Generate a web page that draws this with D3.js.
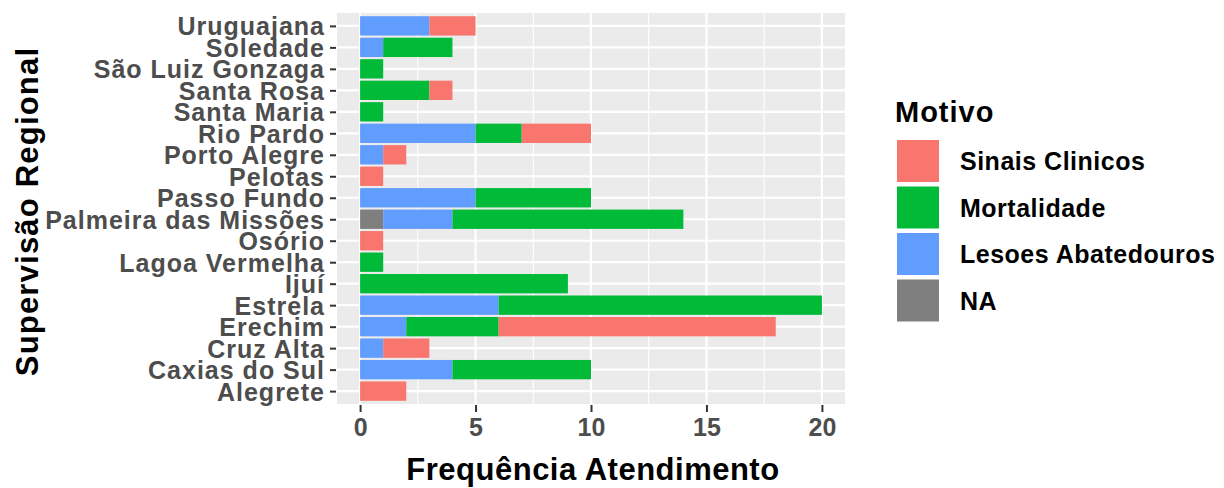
<!DOCTYPE html>
<html><head><meta charset="utf-8">
<script src="https://cdn.jsdelivr.net/npm/d3@7"></script>
<style>body{margin:0;background:#fff}text{font-family:"Liberation Sans",Arial,sans-serif;font-weight:bold}</style>
</head><body><svg id="c" width="1224" height="488"></svg>
<script>
const categories = ["Uruguajana","Soledade","São Luiz Gonzaga","Santa Rosa","Santa Maria","Rio Pardo","Porto Alegre","Pelotas","Passo Fundo","Palmeira das Missões","Osório","Lagoa Vermelha","Ijuí","Estrela","Erechim","Cruz Alta","Caxias do Sul","Alegrete"];
const motivos = ["Sinais Clinicos","Mortalidade","Lesoes Abatedouros","NA"];
const sinais   = [2,0,0,1,0,3,1,1,0,0,1,0,0,0,12,2,0,2];
const mortal   = [0,3,1,3,1,2,0,0,5,10,0,1,9,14,4,0,6,0];
const lesoes   = [3,1,0,0,0,5,1,0,5,3,0,0,0,6,2,1,4,0];
const naVals   = [0,0,0,0,0,0,0,0,0,1,0,0,0,0,0,0,0,0];
const xTicks = [0,5,10,15,20];
const colors = ["#F8766D","#00BA38","#619CFF","#7F7F7F"];

const series = [sinais, mortal, lesoes, naVals];
const svg = d3.select("#c");
const L = 337, R = 845, T = 13, B = 404;
const x = d3.scaleLinear().domain([-1, 21]).range([L, R]);
const yc = d3.scalePoint().domain(categories).range([T + (B-T)*0.6/18.2, B - (B-T)*0.6/18.2]);
const step = yc.step();
const bh = step * 0.9;

svg.append("rect").attr("x",L).attr("y",T).attr("width",R-L).attr("height",B-T).attr("fill","#EBEBEB");
[2.5,7.5,12.5,17.5].forEach(v=>svg.append("line").attr("x1",x(v)).attr("x2",x(v)).attr("y1",T).attr("y2",B).attr("stroke","#fff").attr("stroke-width",1.1));
xTicks.forEach(v=>svg.append("line").attr("x1",x(v)).attr("x2",x(v)).attr("y1",T).attr("y2",B).attr("stroke","#fff").attr("stroke-width",2.2));
categories.forEach(c=>svg.append("line").attr("x1",L).attr("x2",R).attr("y1",yc(c)).attr("y2",yc(c)).attr("stroke","#fff").attr("stroke-width",2.2));

const order = [3,2,1,0];
categories.forEach((c,i)=>{
  let acc = 0;
  order.forEach(k=>{
    const v = series[k][i];
    if (v>0){
      svg.append("rect").attr("x",x(acc)).attr("width",x(acc+v)-x(acc))
        .attr("y",yc(c)-bh/2).attr("height",bh).attr("fill",colors[k]);
      acc += v;
    }
  });
});

const yAxis = d3.axisLeft(yc).tickSize(6).tickPadding(5);
const gy = svg.append("g").attr("transform",`translate(${L-1},0)`).call(yAxis);
gy.select(".domain").remove();
gy.selectAll("line").attr("stroke","#333").attr("stroke-width",2);
gy.selectAll("text").attr("fill","#4D4D4D").style("font-size","25px").style("letter-spacing","1px").style("font-family","'Liberation Sans',Arial,sans-serif").style("font-weight","bold").attr("dy","0.36em");

const xAxis = d3.axisBottom(x).tickValues(xTicks).tickSize(7).tickPadding(6);
const gx = svg.append("g").attr("transform",`translate(0,${B+1})`).call(xAxis);
gx.select(".domain").remove();
gx.selectAll("line").attr("stroke","#333").attr("stroke-width",2);
gx.selectAll("text").attr("fill","#4D4D4D").style("font-size","25px").style("font-family","'Liberation Sans',Arial,sans-serif").style("font-weight","bold");

svg.append("text").attr("x",(L+R)/2+2).attr("y",480).attr("text-anchor","middle").style("font-size","31px").style("letter-spacing","0.5px").attr("fill","#000").text("Frequência Atendimento");
svg.append("text").attr("transform",`translate(38,${(T+B)/2+3}) rotate(-90)`).attr("text-anchor","middle").style("font-size","31px").style("letter-spacing","1.2px").attr("fill","#000").text("Supervisão Regional");

svg.append("text").attr("x",895).attr("y",122).style("font-size","29px").style("letter-spacing","1px").attr("fill","#000").text("Motivo");
motivos.forEach((m,i)=>{
  const ky = 140 + i*46.5;
  svg.append("rect").attr("x",897).attr("y",ky).attr("width",42).attr("height",42).attr("fill",colors[i]);
  svg.append("text").attr("x",960).attr("y",ky+21).attr("dy","0.36em").style("font-size","25px").style("letter-spacing","0.5px").attr("fill","#000").text(m);
});
</script></body></html>
